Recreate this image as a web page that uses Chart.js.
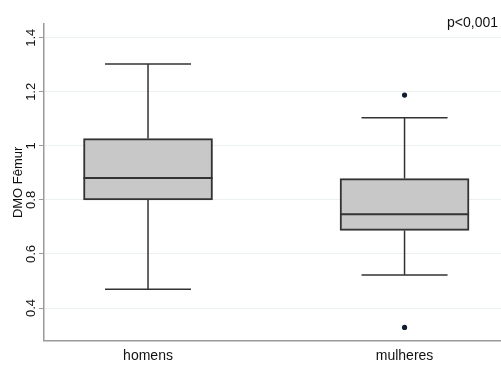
<!DOCTYPE html>
<html>
<head>
<meta charset="utf-8">
<script src="https://cdn.jsdelivr.net/npm/chart.js@4"></script>
<style>
html,body{margin:0;padding:0;background:#fff;}
#wrap{width:501px;height:369px;position:relative;}
</style>
</head>
<body>
<div id="wrap"><canvas id="c"></canvas></div>
<script>
// ---- data ----
const categories = ['homens', 'mulheres'];
const whiskerLow = [0.469, 0.522];
const q1 = [0.800, 0.687];
const median = [0.881, 0.747];
const q3 = [1.027, 0.879];
const whiskerHigh = [1.303, 1.104];
const outlierCategory = ['mulheres', 'mulheres'];
const outlierValues = [1.188, 0.328];
const yTicks = [0.4, 0.6, 0.8, 1, 1.2, 1.4];
const yTickLabels = ['0.4', '0.6', '0.8', '1', '1.2', '1.4'];
const yTitle = 'DMO Fêmur';
const pText = 'p<0,001';

const FONT = "'Liberation Sans', Arial, sans-serif";
const LINE = '#333333';

const boxData = categories.map((c, i) => ({ x: i + 1, y: [q1[i], q3[i]] }));
const outlierData = outlierValues.map((v, i) => ({ x: categories.indexOf(outlierCategory[i]) + 1, y: v }));

const whiskerPlugin = {
  id: 'whiskers',
  beforeDatasetsDraw(chart) {
    const { ctx, scales: { x, y } } = chart;
    ctx.save();
    ctx.strokeStyle = LINE;
    ctx.lineWidth = 1.5;
    const capHalf = 43;
    categories.forEach((c, i) => {
      const px = x.getPixelForValue(i + 1);
      ctx.beginPath();
      ctx.moveTo(px, y.getPixelForValue(q3[i]));
      ctx.lineTo(px, y.getPixelForValue(whiskerHigh[i]));
      ctx.moveTo(px, y.getPixelForValue(q1[i]));
      ctx.lineTo(px, y.getPixelForValue(whiskerLow[i]));
      ctx.moveTo(px - capHalf, y.getPixelForValue(whiskerHigh[i]));
      ctx.lineTo(px + capHalf, y.getPixelForValue(whiskerHigh[i]));
      ctx.moveTo(px - capHalf, y.getPixelForValue(whiskerLow[i]));
      ctx.lineTo(px + capHalf, y.getPixelForValue(whiskerLow[i]));
      ctx.stroke();
    });
    ctx.restore();
  },
  afterDatasetsDraw(chart) {
    const { ctx, scales: { x, y } } = chart;
    const meta = chart.getDatasetMeta(0);
    ctx.save();
    ctx.strokeStyle = LINE;
    ctx.lineWidth = 2;
    categories.forEach((c, i) => {
      const bar = meta.data[i];
      const half = bar.width / 2;
      const px = x.getPixelForValue(i + 1);
      const py = y.getPixelForValue(median[i]);
      ctx.beginPath();
      ctx.moveTo(px - half, py);
      ctx.lineTo(px + half, py);
      ctx.stroke();
    });
    ctx.restore();
  },
  afterDraw(chart) {
    const { ctx, chartArea } = chart;
    ctx.save();
    ctx.fillStyle = '#111';
    ctx.font = '14px ' + FONT;
    ctx.textAlign = 'right';
    ctx.textBaseline = 'alphabetic';
    ctx.fillText(pText, chartArea.right - 3, chartArea.top + 3);
    ctx.restore();
  }
};

new Chart(document.getElementById('c'), {
  type: 'bar',
  data: {
    datasets: [
      {
        type: 'bar',
        data: boxData,
        backgroundColor: '#c8c8c8',
        borderColor: LINE,
        borderWidth: 2,
        borderSkipped: false,
        barThickness: 129,
        grouped: false,
        order: 2
      },
      {
        type: 'scatter',
        data: outlierData,
        backgroundColor: '#0e1e33',
        borderColor: '#0e1e33',
        pointRadius: 2.6,
        borderWidth: 0,
        order: 1
      }
    ]
  },
  options: {
    responsive: true,
    maintainAspectRatio: false,
    animation: false,
    layout: { autoPadding: false, padding: { left: 0, right: 0, top: 24, bottom: 0 } },
    plugins: {
      legend: { display: false },
      tooltip: { enabled: false },
      title: { display: false }
    },
    scales: {
      x: {
        type: 'linear',
        offset: false,
        min: 0.5945,
        max: 2.376,
        afterBuildTicks(s) { s.ticks = categories.map((c, i) => ({ value: i + 1 })); },
        afterFit(s) { s.height = 28.3; },
        ticks: {
          callback: (v) => categories[v - 1] || '',
          color: '#111',
          font: { family: FONT, size: 14 },
          padding: 7,
          maxRotation: 0,
          minRotation: 0
        },
        grid: { display: false, drawTicks: false, offset: false },
        border: { display: true, color: '#9a9a9a', width: 1.5 }
      },
      y: {
        type: 'linear',
        min: 0.279,
        max: 1.451,
        afterBuildTicks(s) { s.ticks = yTicks.map(v => ({ value: v })); },
        afterFit(s) { s.width = 44; },
        ticks: {
          callback: (v) => yTickLabels[yTicks.indexOf(v)],
          color: '#111',
          font: { family: FONT, size: 13 },
          minRotation: 90,
          maxRotation: 90,
          crossAlign: 'center',
          padding: -1
        },
        grid: { color: '#ebf1f1', lineWidth: 1, tickLength: 5, tickColor: '#9a9a9a', tickWidth: 1 },
        border: { display: true, color: '#9a9a9a', width: 1.5 },
        title: {
          display: true,
          text: yTitle,
          color: '#111',
          font: { family: FONT, size: 13, lineHeight: 1.2 },
          padding: { top: 11, bottom: 0 }
        }
      }
    }
  },
  plugins: [whiskerPlugin]
});
</script>
</body>
</html>
